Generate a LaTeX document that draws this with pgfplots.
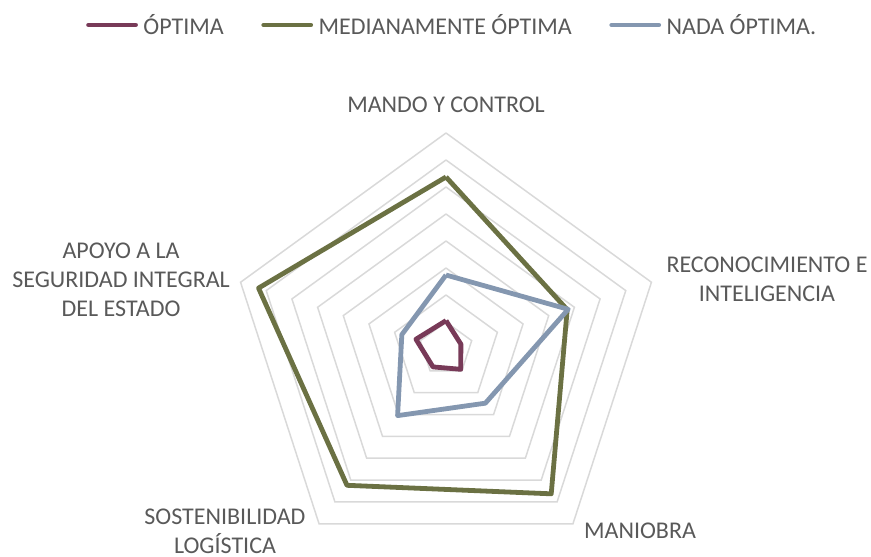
\documentclass[border=0pt]{standalone}
\usepackage{fontspec}
\setmainfont{Carlito}
\usepackage{pgfplots}
\pgfplotsset{compat=1.18}
\definecolor{cOpt}{HTML}{783A58}
\definecolor{cMed}{HTML}{6B7143}
\definecolor{cNada}{HTML}{8497B0}
\definecolor{gridc}{HTML}{D9D9D9}
\definecolor{txt}{HTML}{595959}
\newcommand{\lblfont}{\fontsize{24bp}{29bp}\selectfont}
\begin{document}
\begin{tikzpicture}
\begin{axis}[
  x=27bp, y=27bp,
  xmin=-16.5185, xmax=15.7407, ymin=-7.5926, ymax=12.9259,
  hide axis, clip=false,
  data cs=polar,
  legend columns=3,
  legend style={at={(0.5166,0.9549)}, anchor=center, draw=none, fill=none,
    font=\lblfont, text=txt, inner sep=0pt,
    nodes={inner xsep=0pt, inner ysep=0pt},
    /tikz/every odd column/.append style={column sep=3bp},
    /tikz/every even column/.append style={column sep=35bp}},
  legend image code/.code={\path (0bp,0bp) (52bp,0bp); \draw[#1, line width=4.8bp, line cap=round] (2.5bp,0bp) -- (49.5bp,0bp);},
]
\pgfplotsinvokeforeach{1,...,8}{
  \addplot[gridc, line width=1.5bp, forget plot] coordinates {(90,#1)(18,#1)(-54,#1)(-126,#1)(162,#1)(90,#1)};
}
\addplot[cOpt, line width=4.8bp, line join=round] coordinates {(90,1.05)(18,0.58)(-54,0.93)(-126,0.82)(162,1.17)(90,1.05)};
\addlegendentry{ÓPTIMA}
\addplot[cMed, line width=4.8bp, line join=round] coordinates {(90,6.37)(18,4.72)(-54,6.63)(-126,6.24)(162,7.30)(90,6.37)};
\addlegendentry{MEDIANAMENTE ÓPTIMA}
\addplot[cNada, line width=4.8bp, line join=round] coordinates {(90,2.74)(18,4.76)(-54,2.48)(-126,3.05)(162,1.72)(90,2.74)};
\addlegendentry{NADA ÓPTIMA.}
\path (rel axis cs:0,0) rectangle (rel axis cs:1,1);
\node[font=\lblfont, text=txt, align=center] at (rel axis cs:0.5121,0.8105) {MANDO Y CONTROL};
\node[font=\lblfont, text=txt, align=center] at (rel axis cs:0.8806,0.4964) {RECONOCIMIENTO E\\INTELIGENCIA};
\node[font=\lblfont, text=txt, align=center] at (rel axis cs:0.7348,0.0415) {MANIOBRA};
\node[font=\lblfont, text=txt, align=center] at (rel axis cs:0.2583,0.0415) {SOSTENIBILIDAD\\LOGÍSTICA};
\node[font=\lblfont, text=txt, align=center] at (rel axis cs:0.1390,0.4946) {APOYO A LA\\SEGURIDAD INTEGRAL\\DEL ESTADO};
\end{axis}
\end{tikzpicture}
\end{document}
